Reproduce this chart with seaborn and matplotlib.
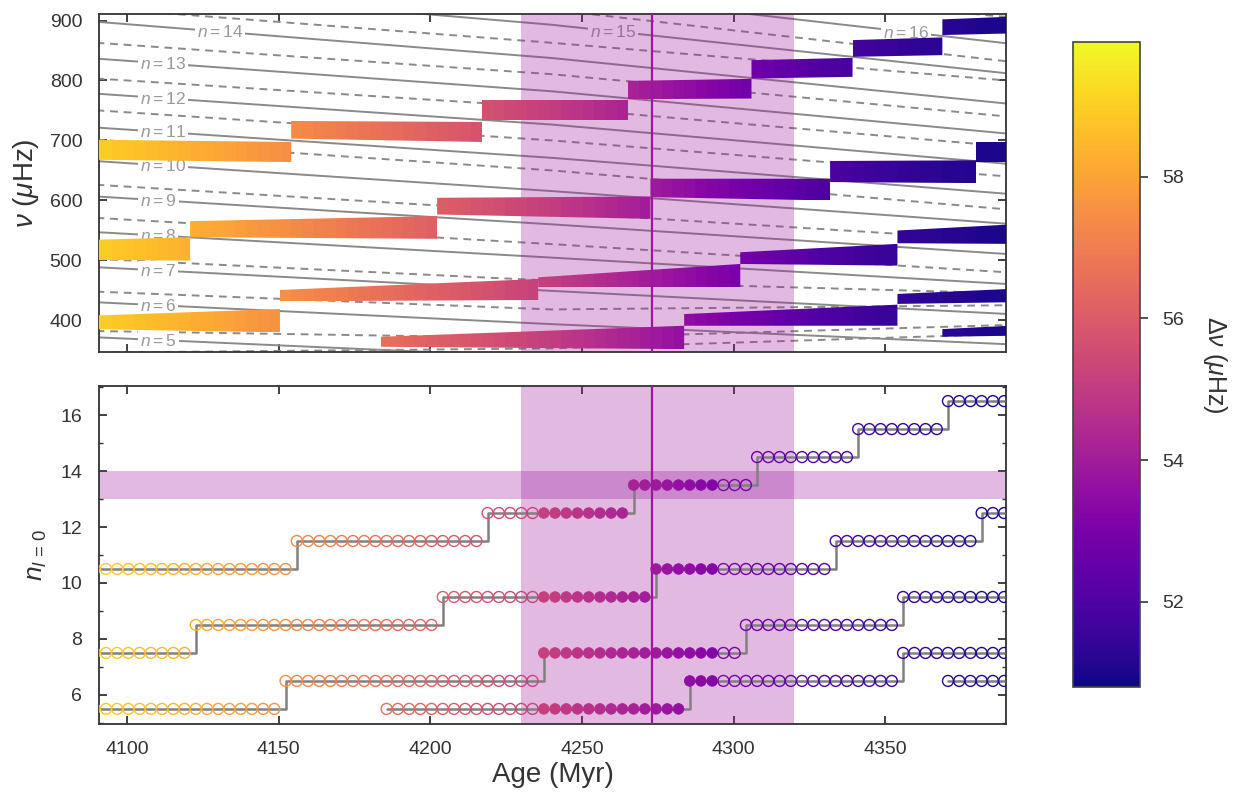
import numpy as np
import pandas as pd
import matplotlib
matplotlib.use("Agg")
import matplotlib.pyplot as plt
import matplotlib.colors as mcolors
import seaborn as sns

# model ages (Myr) and large separation of each model (uHz)
ages = [4089.4, 4093.1, 4096.8, 4100.5, 4104.2, 4107.9, 4111.6, 4115.3, 4119.0, 4122.7,
        4126.4, 4130.1, 4133.8, 4137.5, 4141.2, 4144.9, 4148.6, 4152.3, 4156.0, 4159.7,
        4163.4, 4167.1, 4170.8, 4174.5, 4178.2, 4181.9, 4185.6, 4189.3, 4193.0, 4196.7,
        4200.4, 4204.1, 4207.8, 4211.5, 4215.2, 4218.9, 4222.6, 4226.3, 4230.0, 4233.7,
        4237.4, 4241.1, 4244.8, 4248.5, 4252.2, 4255.9, 4259.6, 4263.3, 4267.0, 4270.7,
        4274.4, 4278.1, 4281.8, 4285.5, 4289.2, 4292.9, 4296.6, 4300.3, 4304.0, 4307.7,
        4311.4, 4315.1, 4318.8, 4322.5, 4326.2, 4329.9, 4333.6, 4337.3, 4341.0, 4344.7,
        4348.4, 4352.1, 4355.8, 4359.5, 4363.2, 4366.9, 4370.6, 4374.3, 4378.0, 4381.7,
        4385.4, 4389.1]
dnu = [59.00, 58.92, 58.84, 58.76, 58.68, 58.60, 58.52, 58.43, 58.34, 58.25,
       58.16, 58.06, 57.96, 57.86, 57.76, 57.66, 57.56, 57.46, 57.36, 57.26,
       57.16, 57.06, 56.96, 56.86, 56.76, 56.66, 56.56, 56.46, 56.36, 56.26,
       56.16, 56.06, 55.96, 55.86, 55.76, 55.66, 55.56, 55.45, 55.34, 55.23,
       55.12, 55.00, 54.88, 54.76, 54.64, 54.52, 54.40, 54.28, 54.16, 54.03,
       53.90, 53.77, 53.64, 53.51, 53.38, 53.25, 53.12, 52.99, 52.86, 52.74,
       52.62, 52.50, 52.38, 52.26, 52.15, 52.04, 51.94, 51.84, 51.75, 51.67,
       51.59, 51.52, 51.45, 51.39, 51.33, 51.27, 51.22, 51.17, 51.12, 51.07,
       51.02, 50.98]

# observed modes: starting radial order, first model, ages where n jumps by one
track_n0 = [10, 7, 5, 5, 6]
track_first = [4089.4, 4089.4, 4089.4, 4185.6, 4370.6]
track_steps = [[4156.0, 4218.9, 4267.0, 4307.7, 4341.0, 4370.6],
               [4122.7, 4204.1, 4274.4, 4333.6, 4381.7],
               [4152.3, 4237.4, 4304.0, 4355.8],
               [4285.5, 4355.8],
               []]
# frequency band of each segment: (lo start, hi start, lo end, hi end)
track_bands = [
    [(667.8, 701.3, 663.9, 697.4), (703.0, 732.5, 697.4, 730.8), (734.7, 767.0, 734.7, 767.0),
     (768.8, 799.4, 769.9, 802.7), (803.3, 833.9, 806.1, 837.8), (839.5, 867.4, 842.3, 871.9),
     (875.8, 902.0, 878.5, 906.4)],
    [(500.6, 534.0, 499.5, 538.5), (538.5, 565.3, 535.8, 573.7), (576.4, 604.3, 569.2, 606.5),
     (605.4, 636.1, 599.8, 636.1), (630.5, 665.7, 628.8, 666.8), (663.9, 697.4, 663.9, 697.4)],
    [(385.2, 407.5, 379.7, 418.7), (431.5, 450.5, 433.8, 468.9), (455.0, 471.6, 455.0, 493.9),
     (493.9, 513.4, 491.1, 527.4), (528.5, 549.7, 527.4, 559.7)],
    [(355.7, 372.4, 351.8, 390.8), (390.8, 410.3, 390.8, 426.0), (427.2, 443.9, 430.0, 452.2)],
    [(372.4, 385.2, 374.1, 390.8)],
]

fit_ages = (4235, 4295)
age_band = (4230, 4320)
age_best = 4273
n_band = (13, 14)

# model l=0 (solid) and l=1 (dashed) frequencies
line_ages = [4090, 4240, 4390]
n_solid = [5, 6, 7, 8, 9, 10, 11, 12, 13, 14, 15, 16, 17]
nu_solid = [[371.5, 338.0, 310.0], [430.0, 393.5, 360.0], [488.5, 449.0, 410.5],
            [547.0, 504.5, 460.5], [606.5, 560.0, 510.5], [665.5, 615.5, 561.0],
            [721.5, 671.0, 611.0], [778.0, 726.5, 661.0], [836.5, 782.0, 711.5],
            [898.0, 837.5, 761.5], [957.0, 893.0, 812.0], [1016.0, 948.5, 862.0],
            [1075.0, 1004.0, 912.0]]
nu_dashed = [[346.0, 353.0, 377.0], [382.0, 370.0, 392.0], [447.7, 418.0, 425.0],
             [502.3, 466.0, 445.0], [570.8, 527.0, 480.0], [626.0, 580.0, 533.0],
             [701.3, 650.0, 585.0], [750.3, 700.0, 640.0], [803.3, 755.0, 690.0],
             [862.9, 810.5, 740.0], [921.0, 862.9, 800.0], [985.0, 918.0, 832.0],
             [1045.0, 975.0, 906.0]]
label_n = [5, 6, 7, 8, 9, 10, 11, 12, 13, 14, 15, 16]
label_age = [4104.3, 4104.3, 4104.3, 4104.3, 4104.3, 4104.3, 4104.3, 4104.3, 4104.3,
             4123.0, 4252.6, 4349.2]

sns.set_style("ticks")
plt.rcParams["font.family"] = ["Liberation Sans", "DejaVu Sans"]
plt.rcParams["mathtext.fontset"] = "custom"
plt.rcParams["mathtext.rm"] = "Liberation Sans"
plt.rcParams["mathtext.it"] = "Liberation Sans:italic"
plt.rcParams["axes.edgecolor"] = "#333333"
plt.rcParams["axes.linewidth"] = 1.3

ages = np.array(ages)
dnu = np.array(dnu)
cmap = plt.get_cmap("plasma")
norm = mcolors.Normalize(vmin=50.8, vmax=59.9)
band_col = "#9c179e"
gray = "#8a8a8a"
txt = "#333333"

fig = plt.figure(figsize=(12.37, 7.98), dpi=100)
ax1 = fig.add_axes([0.0800, 0.5589, 0.7332, 0.4236])
ax2 = fig.add_axes([0.0800, 0.0927, 0.7332, 0.4236])
cax = fig.add_axes([0.8674, 0.1391, 0.0542, 0.8083])

# ---- top panel: frequencies
for vals in nu_solid:
    sns.lineplot(x=line_ages, y=vals, color=gray, lw=1.4, ax=ax1, zorder=1)
for vals in nu_dashed:
    sns.lineplot(x=line_ages, y=vals, color=gray, lw=1.4, ls=(0, (4, 3)), ax=ax1, zorder=1)
for n, la in zip(label_n, label_age):
    yv = np.interp(la + 10, line_ages, nu_solid[n_solid.index(n)])
    ax1.text(la, yv, rf"$n = {n}$", color="#999999", fontsize=12.5, ha="left", va="center",
             zorder=1.5, bbox=dict(fc="white", ec="none", pad=1.5))
ax1.axvspan(*age_band, color=band_col, alpha=0.3, lw=0, zorder=2)

half = (ages[1] - ages[0]) / 2
rows = []
for t in range(len(track_n0)):
    keep = ages >= track_first[t]
    a, d = ages[keep], dnu[keep]
    n = track_n0[t] + np.searchsorted(track_steps[t], a, side="right")
    for j, nn in enumerate(np.unique(n)):
        sel = n == nn
        a0, a1 = a[sel][0] - half, a[sel][-1] + half
        lo0, hi0, lo1, hi1 = track_bands[t][j]
        poly = ax1.fill_between([a0, a1], [lo0, lo1], [hi0, hi1], color="none", lw=0)
        im = ax1.imshow(d[sel][None, :], extent=(a0, a1, min(lo0, lo1), max(hi0, hi1)),
                        cmap=cmap, norm=norm, aspect="auto", interpolation="nearest",
                        origin="lower", zorder=3)
        im.set_clip_path(poly.get_paths()[0], ax1.transData)
    rows.append(pd.DataFrame({"track": t, "age": a, "y": n + 0.5, "dnu": d}))
ax1.axvline(age_best, color=band_col, lw=1.6, zorder=4)

# ---- bottom panel: radial orders
df = pd.concat(rows, ignore_index=True)
df["fit"] = (df["age"] >= fit_ages[0]) & (df["age"] <= fit_ages[1])
ax2.axvspan(*age_band, color=band_col, alpha=0.3, lw=0, zorder=1)
ax2.axhspan(*n_band, color=band_col, alpha=0.3, lw=0, zorder=1)
for t, g in df.groupby("track"):
    sns.lineplot(data=g, x="age", y="y", color="#808080", lw=1.8, drawstyle="steps-post",
                 ax=ax2, zorder=3, estimator=None)
sns.scatterplot(data=df[~df["fit"]], x="age", y="y", hue="dnu", palette="plasma",
                hue_norm=norm, s=62, linewidth=1.0, legend=False, ax=ax2, zorder=4)
coll = ax2.collections[-1]
coll.set_edgecolors(coll.get_facecolors())
coll.set_facecolors("none")
sns.scatterplot(data=df[df["fit"]], x="age", y="y", hue="dnu", palette="plasma",
                hue_norm=norm, s=58, linewidth=0.6, legend=False, ax=ax2, zorder=4)
coll = ax2.collections[-1]
coll.set_edgecolors(coll.get_facecolors())
ax2.axvline(age_best, color=band_col, lw=1.6, zorder=5)

for ax in (ax1, ax2):
    ax.set_xlim(4090.8, 4389.7)
    ax.set_xticks([4100, 4150, 4200, 4250, 4300, 4350])
    ax.tick_params(direction="in", top=True, right=True, length=6, width=1.3,
                   labelsize=14, labelcolor=txt, color=txt, pad=12)
    ax.tick_params(which="minor", direction="in", top=True, right=True, length=3,
                   width=1.0, color=txt)
ax1.set_ylim(347, 911)
ax1.set_yticks([400, 500, 600, 700, 800, 900])
ax1.tick_params(labelbottom=False)
ax1.set_xlabel("")
ax1.set_ylabel(r"$\nu$ ($\mu$Hz)", fontsize=20, color=txt)
ax1.yaxis.set_label_coords(-0.064, 0.5)

ax2.set_ylim(4.96, 17.04)
ax2.set_yticks([6, 8, 10, 12, 14, 16])
ax2.set_yticks([5, 7, 9, 11, 13, 15, 17], minor=True)
ax2.set_xlabel("Age (Myr)", fontsize=20, color=txt)
ax2.xaxis.set_label_coords(0.5, -0.112)
ax2.set_ylabel(r"$n_{l\,=\,0}$", fontsize=19, color=txt)
ax2.yaxis.set_label_coords(-0.055, 0.5)

sm = plt.cm.ScalarMappable(norm=norm, cmap=cmap)
cb = fig.colorbar(sm, cax=cax)
cb.set_ticks([52, 54, 56, 58])
cb.outline.set_edgecolor("#444444")
cb.outline.set_linewidth(1.2)
cax.tick_params(direction="out", length=6, width=1.2, labelsize=14, labelcolor=txt,
                color=txt, pad=10)
cb.set_label(r"$\Delta\nu$ ($\mu$Hz)", fontsize=18, color=txt, rotation=270, labelpad=32)

fig.savefig("out.png", dpi=100)
